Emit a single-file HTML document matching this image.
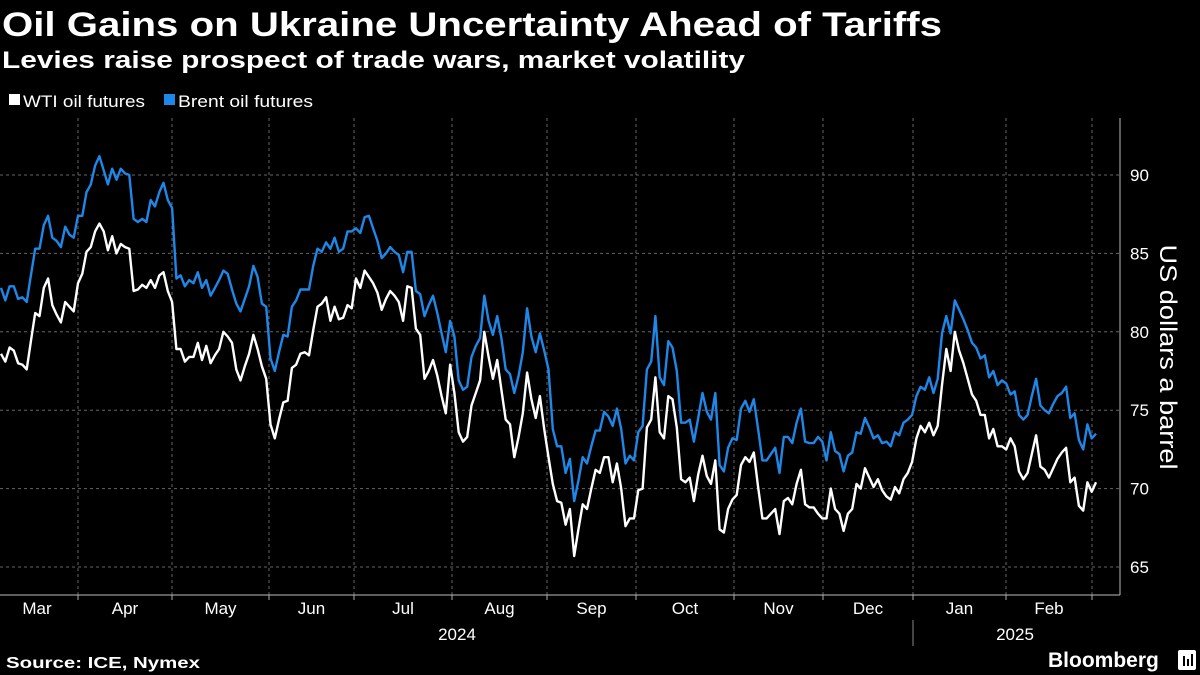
<!DOCTYPE html>
<html><head><meta charset="utf-8">
<style>
html,body{margin:0;padding:0;background:#000;width:1200px;height:675px;overflow:hidden}
svg{display:block;font-family:"Liberation Sans",sans-serif}
</style></head>
<body>
<svg id="chart" width="1200" height="675" viewBox="0 0 1200 675">
<text x="2" y="36" fill="#fff" font-size="34" font-weight="bold" textLength="940" lengthAdjust="spacingAndGlyphs">Oil Gains on Ukraine Uncertainty Ahead of Tariffs</text>
<text x="2" y="68" fill="#fff" font-size="24" font-weight="bold" textLength="743" lengthAdjust="spacingAndGlyphs">Levies raise prospect of trade wars, market volatility</text>
<g>
<g><rect x="9" y="94" width="11" height="11" fill="#fff"/><text x="23" y="107" fill="#fff" font-size="17" textLength="122" lengthAdjust="spacingAndGlyphs">WTI oil futures</text></g>
<g><rect x="164" y="94" width="11" height="11" fill="#1f87e8"/><text x="178" y="107" fill="#fff" font-size="17" textLength="135" lengthAdjust="spacingAndGlyphs">Brent oil futures</text></g>
</g>
<g id="grid"></g>
<g id="axes"></g>
<g id="series"></g>
<text transform="translate(1160,357) rotate(90)" fill="#fff" font-size="24" text-anchor="middle" textLength="225" lengthAdjust="spacingAndGlyphs">US dollars a barrel</text>
<text x="6" y="668" fill="#fff" font-size="16" font-weight="bold" textLength="194" lengthAdjust="spacingAndGlyphs">Source: ICE, Nymex</text>
<text x="1048" y="667" fill="#fff" font-size="21" font-weight="bold">Bloomberg</text>
<g><rect x="1178" y="650" width="18" height="20" rx="2" fill="#fff"/><rect x="1183" y="656" width="2" height="10" fill="#000"/><rect x="1187" y="659" width="2" height="7" fill="#000"/><rect x="1191" y="654" width="2" height="12" fill="#000"/></g>
</svg>
<script>
const yTicks=[65,70,75,80,85,90];
const months=["Mar","Apr","May","Jun","Jul","Aug","Sep","Oct","Nov","Dec","Jan","Feb"];
const years=["2024","2025"];
const wti=[78.6,78.1,79.0,78.8,78.0,77.9,77.6,79.4,81.2,81.0,82.8,83.4,81.7,81.1,80.6,81.9,81.6,81.3,83.1,83.7,85.1,85.4,86.4,86.9,86.4,85.2,86.1,85.0,85.6,85.4,85.3,82.6,82.7,83.0,82.8,83.3,82.8,83.6,83.8,82.6,81.9,78.9,78.9,78.1,78.4,78.4,79.3,78.2,79.1,78.0,78.5,78.9,80.0,79.7,79.3,77.6,76.9,77.8,78.6,79.8,78.9,77.8,77.0,74.1,73.2,74.4,75.5,
75.6,77.7,77.9,78.6,78.7,78.5,80.1,81.6,81.8,82.2,80.7,81.6,80.8,80.9,81.7,81.5,83.4,82.8,83.9,83.5,83.1,82.5,81.4,82.1,82.6,82.3,81.9,80.7,82.9,82.8,80.2,79.8,77.0,77.5,78.2,77.2,75.9,74.8,77.9,76.1,73.6,73.0,73.3,75.3,76.1,76.9,80.0,78.4,77.0,78.2,76.3,74.4,74.1,72.0,73.3,74.8,77.4,75.7,74.5,75.9,73.8,72.0,70.3,69.2,69.1,67.7,
68.7,65.7,67.4,69.0,68.7,70.0,71.2,71.0,72.0,72.0,70.4,71.6,70.0,67.6,68.1,68.1,69.9,70.0,73.9,74.4,77.1,73.6,73.2,75.9,75.7,73.9,70.6,70.4,70.7,69.2,70.9,72.1,70.8,70.3,71.8,67.4,67.2,68.7,69.3,69.6,71.5,72.0,71.7,72.3,70.1,68.1,68.1,68.4,68.7,67.1,69.2,69.4,69.0,70.3,71.2,69.0,68.8,68.8,68.4,68.1,68.1,70.0,68.7,68.4,67.3,68.4,
68.7,70.3,70.0,71.3,70.7,70.1,70.6,69.9,69.5,69.3,70.1,69.7,70.6,71.0,71.7,73.2,74.0,73.6,74.2,73.4,74.0,76.6,78.9,77.5,80.0,78.8,78.0,77.0,76.0,75.6,74.7,74.7,73.2,73.8,72.7,72.7,72.5,73.2,72.7,71.1,70.6,71.0,72.2,73.4,71.4,71.2,70.7,71.3,71.9,72.3,72.6,70.4,70.7,68.9,68.6,70.4,69.8,70.4];
const brent=[82.8,82.0,82.9,82.9,82.1,82.2,81.9,83.6,85.3,85.3,86.8,87.4,86.0,85.8,85.4,86.7,86.2,86.0,87.4,87.4,88.9,89.4,90.6,91.2,90.3,89.4,90.4,89.7,90.4,90.1,90.0,87.2,87.0,87.2,87.0,88.4,88.0,88.9,89.5,88.4,87.9,83.4,83.6,82.9,83.3,83.1,83.8,82.8,83.3,82.3,82.8,83.3,83.9,83.7,82.7,81.8,81.3,82.1,82.9,84.2,83.5,81.8,81.6,78.3,77.5,78.7,79.8,
79.7,81.6,82.0,82.7,82.7,82.7,84.2,85.3,85.1,85.7,85.3,86.0,85.1,85.3,86.4,86.4,86.6,86.3,87.3,87.4,86.6,85.8,84.7,85.0,85.4,85.1,84.9,83.8,85.1,85.1,82.6,82.4,81.0,81.7,82.3,81.2,79.9,78.7,80.7,79.7,76.9,76.3,76.5,78.4,79.1,79.6,82.3,80.7,79.8,81.0,79.6,77.6,77.3,76.1,77.2,78.7,81.5,79.7,78.7,79.9,78.8,77.6,73.8,72.7,72.7,71.0,
71.9,69.2,70.5,72.0,71.6,72.7,73.7,73.7,74.9,74.6,74.0,75.1,73.8,71.6,72.1,71.8,73.6,74.0,77.6,78.1,81.0,77.1,76.6,79.4,79.0,77.5,74.2,74.2,74.4,73.0,74.5,76.1,74.9,74.4,76.1,71.5,71.1,72.6,73.2,73.1,75.1,75.6,74.9,75.7,73.8,71.8,71.8,72.2,72.6,71.0,73.3,73.3,72.9,74.2,75.1,73.0,72.9,72.9,73.3,73.0,71.8,73.6,72.4,72.2,71.1,72.1,
72.3,73.6,73.5,74.5,73.9,73.2,73.4,72.9,73.0,72.7,73.6,73.4,74.2,74.4,74.7,75.9,76.5,76.3,77.1,76.1,77.0,79.9,81.0,79.9,82.0,81.4,80.8,80.1,79.3,79.0,78.3,78.5,77.1,77.5,76.6,76.9,76.7,76.0,76.2,74.7,74.4,74.7,75.9,77.0,75.3,75.0,74.8,75.4,75.9,76.1,76.5,74.5,74.8,73.1,72.5,74.1,73.2,73.5];

const NS="http://www.w3.org/2000/svg";
const X0=1,X1=1096,PLOT_R=1120;
const monthBounds=[-14,78,172,269,354,452,547,636,734,823,913,1006,1092];
function yScale(v){return 175+(90-v)*15.68;}
function xScale(i,n){return X0+(X1-X0)*i/(n-1);}
function mk(tag,attrs,parent){const e=document.createElementNS(NS,tag);for(const k in attrs)e.setAttribute(k,attrs[k]);parent.appendChild(e);return e;}
const grid=document.getElementById('grid'),axes=document.getElementById('axes'),series=document.getElementById('series');
yTicks.forEach(t=>{
  const y=yScale(t);
  const l=mk('line',{x1:0,x2:PLOT_R,y1:y,y2:y,stroke:'#666','stroke-width':1,'stroke-dasharray':'3,3'},grid);
  
  
  const tx=mk('text',{x:1130,y:y+6,fill:'#fff','font-size':17},axes);
  tx.textContent=t;
  
  
});
for(let i=1;i<monthBounds.length;i++){
  const x=monthBounds[i];
  const l=mk('line',{x1:x,x2:x,y1:118,y2:595,stroke:'#666','stroke-width':1,'stroke-dasharray':'3,3'},grid);
  
  
  const tk=mk('line',{x1:x,x2:x,y1:595,y2:600,stroke:'#aaa','stroke-width':1},axes);
  
  
}
months.forEach((m,i)=>{
  const cx=Math.max(37,(monthBounds[i]+monthBounds[i+1])/2);
  const t=mk('text',{x:cx,y:614,fill:'#fff','font-size':17,'text-anchor':'middle'},axes);
  t.textContent=m;
  
  
});
const y1=mk('text',{x:457,y:640,fill:'#fff','font-size':17,'text-anchor':'middle'},axes);y1.textContent=years[0];


const y2=mk('text',{x:1015,y:640,fill:'#fff','font-size':17,'text-anchor':'middle'},axes);y2.textContent=years[1];


const sep=mk('line',{x1:913,x2:913,y1:620,y2:646,stroke:'#888','stroke-width':1},axes);


const xa=mk('line',{x1:0,x2:PLOT_R,y1:595,y2:595,stroke:'#bbb','stroke-width':1},axes);


const ya=mk('line',{x1:PLOT_R,x2:PLOT_R,y1:118,y2:595,stroke:'#bbb','stroke-width':1},axes);


function draw(arr,color,name){
  const d=arr.map((v,i)=>(i?'L':'M')+xScale(i,arr.length).toFixed(1)+','+yScale(v).toFixed(1)).join('');
  const p=mk('path',{d:d,fill:'none',stroke:color,'stroke-width':2.4,'stroke-linejoin':'round'},series);
  
  
}
draw(brent,'#1f87e8','brent-line');
draw(wti,'#ffffff','wti-line');
</script>
</body></html>
